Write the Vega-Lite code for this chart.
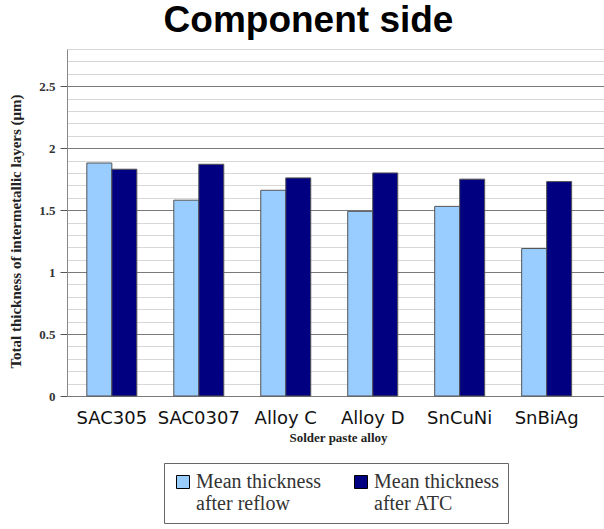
{
  "$schema": "https://vega.github.io/schema/vega-lite/v6.json",
  "autosize": "none",
  "padding": {"left": 67, "top": 49, "right": 0, "bottom": 133},
  "width": 537,
  "height": 347,
  "background": "white",
  "data": {
    "values": [
      {"alloy": "SAC305", "series": "Mean thickness after reflow", "value": 1.88},
      {"alloy": "SAC305", "series": "Mean thickness after ATC", "value": 1.83},
      {"alloy": "SAC0307", "series": "Mean thickness after reflow", "value": 1.58},
      {"alloy": "SAC0307", "series": "Mean thickness after ATC", "value": 1.87},
      {"alloy": "Alloy C", "series": "Mean thickness after reflow", "value": 1.66},
      {"alloy": "Alloy C", "series": "Mean thickness after ATC", "value": 1.76},
      {"alloy": "Alloy D", "series": "Mean thickness after reflow", "value": 1.49},
      {"alloy": "Alloy D", "series": "Mean thickness after ATC", "value": 1.80},
      {"alloy": "SnCuNi", "series": "Mean thickness after reflow", "value": 1.53},
      {"alloy": "SnCuNi", "series": "Mean thickness after ATC", "value": 1.75},
      {"alloy": "SnBiAg", "series": "Mean thickness after reflow", "value": 1.19},
      {"alloy": "SnBiAg", "series": "Mean thickness after ATC", "value": 1.73}
    ]
  },
  "layer": [
    {
      "mark": {"type": "bar", "stroke": "#555555", "strokeWidth": 1},
      "encoding": {
        "x": {
          "field": "alloy",
          "type": "nominal",
          "sort": ["SAC305", "SAC0307", "Alloy C", "Alloy D", "SnCuNi", "SnBiAg"],
          "scale": {"paddingInner": 0.425, "paddingOuter": 0.3, "align": 0.38},
          "axis": {
            "title": "Solder paste alloy",
            "titleFont": "Liberation Serif",
            "titleFontSize": 13,
            "titleFontWeight": "bold",
            "titleColor": "#222222",
            "titleX": 271,
            "titleY": 41,
            "titleBaseline": "middle",
            "labelAngle": 0,
            "labelFont": "DejaVu Sans",
            "labelFontSize": 18,
            "labelColor": "#111111",
            "labelPadding": 13,
            "ticks": false,
            "domain": false,
            "grid": false
          }
        },
        "xOffset": {
          "field": "series",
          "type": "nominal",
          "sort": ["Mean thickness after reflow", "Mean thickness after ATC"],
          "scale": {"paddingInner": 0, "paddingOuter": 0}
        },
        "y": {
          "field": "value",
          "type": "quantitative",
          "scale": {"domain": [0, 2.8], "nice": false},
          "axis": {
            "title": "Total thickness of intermetallic layers (μm)",
            "titleFont": "Liberation Serif",
            "titleFontSize": 15,
            "titleFontWeight": "bold",
            "titleColor": "#222222",
            "titleX": -52,
            "titleY": 182,
            "titleAlign": "center",
            "titleBaseline": "middle",
            "values": [0, 0.5, 1, 1.5, 2, 2.5],
            "format": "~g",
            "labelFont": "Liberation Serif",
            "labelFontSize": 13,
            "labelFontWeight": "bold",
            "labelColor": "#333333",
            "labelPadding": 5,
            "tickSize": 7,
            "tickColor": "#555555",
            "domainColor": "#888888",
            "grid": true,
            "gridColor": "#7a7a7a",
            "gridWidth": 1
          }
        },
        "color": {
          "field": "series",
          "type": "nominal",
          "sort": ["Mean thickness after reflow", "Mean thickness after ATC"],
          "scale": {
            "domain": ["Mean thickness after reflow", "Mean thickness after ATC"],
            "range": ["#99ccff", "#000080"]
          },
          "legend": {
            "title": null,
            "orient": "none",
            "legendX": 97,
            "legendY": 414,
            "direction": "horizontal",
            "columns": 2,
            "columnPadding": 30,
            "padding": 9,
            "strokeColor": "#666666",
            "fillColor": "#ffffff",
            "symbolType": "square",
            "symbolSize": 169,
            "symbolStrokeColor": "#000000",
            "symbolStrokeWidth": 1,
            "symbolOpacity": 1,
            "labelFont": "Liberation Serif",
            "labelFontSize": 20,
            "labelColor": "#333333",
            "labelOffset": 3,
            "labelExpr": "['Mean thickness', slice(datum.label, 15)]"
          }
        }
      }
    },
    {
      "mark": {"type": "bar", "opacity": 0},
      "encoding": {
        "x": {
          "field": "alloy",
          "type": "nominal",
          "sort": ["SAC305", "SAC0307", "Alloy C", "Alloy D", "SnCuNi", "SnBiAg"],
          "axis": {
            "orient": "top",
            "title": "Component side",
            "titleFont": "Liberation Sans",
            "titleFontSize": 37,
            "titleFontWeight": "bold",
            "titleColor": "#000000",
            "titleX": 241,
            "titleY": -18,
            "titleAlign": "center",
            "titleBaseline": "alphabetic",
            "titleAngle": 0,
            "labels": false,
            "ticks": false,
            "domain": false,
            "grid": false
          }
        },
        "y": {
          "field": "value",
          "type": "quantitative",
          "axis": {
            "orient": "right",
            "title": null,
            "labels": false,
            "ticks": false,
            "domain": false,
            "values": [0.1, 0.2, 0.3, 0.4, 0.6, 0.7, 0.8, 0.9, 1.1, 1.2, 1.3, 1.4, 1.6, 1.7, 1.8, 1.9, 2.1, 2.2, 2.3, 2.4, 2.6, 2.7, 2.8],
            "grid": true,
            "gridColor": "#d8d8d8",
            "gridWidth": 1
          }
        }
      }
    }
  ],
  "resolve": {"axis": {"y": "independent", "x": "independent"}},
  "config": {
    "view": {"stroke": null}
  }
}
